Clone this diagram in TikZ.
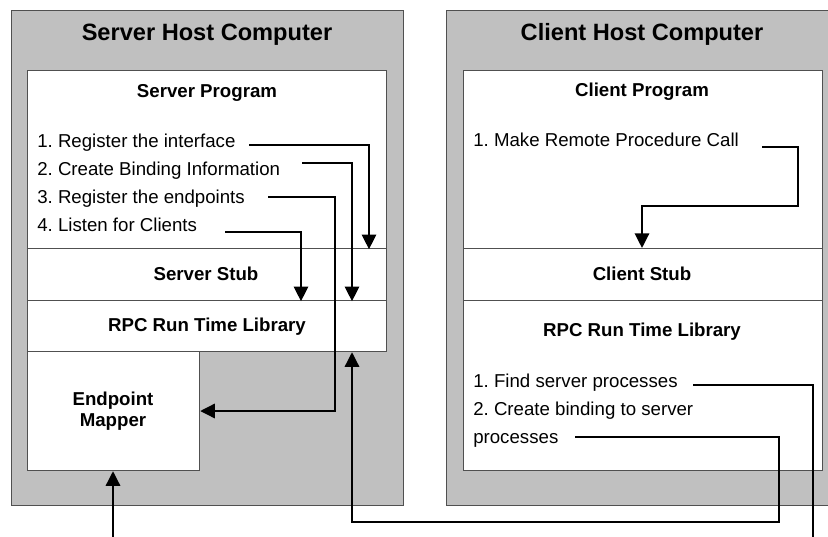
\documentclass[tikz,border=0pt]{standalone}
\usepackage{fontspec}
\setmainfont{Liberation Sans}
\usetikzlibrary{arrows.meta}
\definecolor{hostgray}{HTML}{C0C0C0}
\definecolor{edgegray}{HTML}{505050}
\frenchspacing
\begin{document}
\begin{tikzpicture}[x=0.75pt,y=-0.75pt,
  host/.style={draw=edgegray, fill=hostgray, line width=0.9pt, inner sep=0pt, anchor=north west},
  box/.style={draw=edgegray, fill=white, line width=0.9pt, inner sep=0pt, anchor=north west},
  sz/.style 2 args={minimum width=#1*0.75pt, minimum height=#2*0.75pt},
  titletext/.style={font=\fontsize{17.7}{20}\selectfont\bfseries, anchor=base, inner sep=0pt},
  head/.style={font=\fontsize{14}{16}\selectfont\bfseries, anchor=base, inner sep=0pt},
  item/.style={font=\fontsize{14}{16}\selectfont, anchor=base west, inner sep=0pt},
  conn/.style={line width=1.5pt, black},
  arr/.style={conn, -{Triangle[length=11pt,width=10.8pt]}}]
\useasboundingbox (0,0) rectangle (828,536);
% host boxes
\node[host, sz={392}{495}] (sh) at (11,10) {};
\node[host, sz={384}{495}] (ch) at (446,10) {};
% server boxes
\node[box, sz={359}{178}] (sp) at (27,70) {};
\node[box, sz={359}{52}] (ss) at (27,248) {};
\node[box, sz={359}{51}] (srtl) at (27,300) {};
\node[box, sz={172}{119}] (em) at (27,351) {};
% client boxes
\node[box, sz={359}{178}] (cp) at (463,70) {};
\node[box, sz={359}{52}] (cs) at (463,248) {};
\node[box, sz={359}{170}] (crtl) at (463,300) {};
% texts
\node[titletext] (tsh) at (207,40) {Server Host Computer};
\node[titletext] (tch) at (642,40) {Client Host Computer};
\node[head] (hsp) at (207,97) {Server Program};
\node[item] (i1) at (37,147) {1. Register the interface};
\node[item] (i2) at (37,175) {2. Create Binding Information};
\node[item] (i3) at (37,203) {3. Register the endpoints};
\node[item] (i4) at (37,231) {4. Listen for Clients};
\node[head] (hss) at (206,280) {Server Stub};
\node[head] (hsr) at (207,331) {RPC Run Time Library};
\node[head] (hem1) at (113,405) {Endpoint};
\node[head] (hem2) at (113,426) {Mapper};
\node[head] (hcp) at (642,96) {Client Program};
\node[item] (j1) at (473,146) {1. Make Remote Procedure Call};
\node[head] (hcs) at (642,280) {Client Stub};
\node[head] (hcr) at (642,336) {RPC Run Time Library};
\node[item] (k1) at (473,387) {1. Find server processes};
\node[item] (k2) at (473,415) {2. Create binding to server};
\node[item] (k3) at (473,443) {processes};
% connector coordinates
\coordinate (s1) at (249,145); \coordinate (x1) at (369,0);
\coordinate (s2) at (302,163); \coordinate (x2) at (352,0);
\coordinate (s3) at (268,197); \coordinate (t3) at (335,411);
\coordinate (s4) at (225,232); \coordinate (x4) at (301,0);
\coordinate (s5) at (762,147); \coordinate (t5) at (798,206); \coordinate (x5) at (642,0);
\coordinate (s6) at (693,385); \coordinate (e6) at (813,537);
\coordinate (s7) at (575,437); \coordinate (t7) at (779,522);
\coordinate (b8) at (113,537);
% connectors
\draw[arr] (s1) -| (sp.south -| x1);
\draw[arr] (s2) -| (ss.south -| x2);
\draw[arr] (s3) -| (t3) -- (em.east |- t3);
\draw[arr] (s4) -| (ss.south -| x4);
\draw[arr] (s5) -| (t5) -| (cs.north -| x5);
\draw[conn] (s6) -| (e6);
\draw[arr] (s7) -| (t7) -| (srtl.south -| x2);
\draw[arr] (b8) -- (em.south -| b8);
\end{tikzpicture}
\end{document}
